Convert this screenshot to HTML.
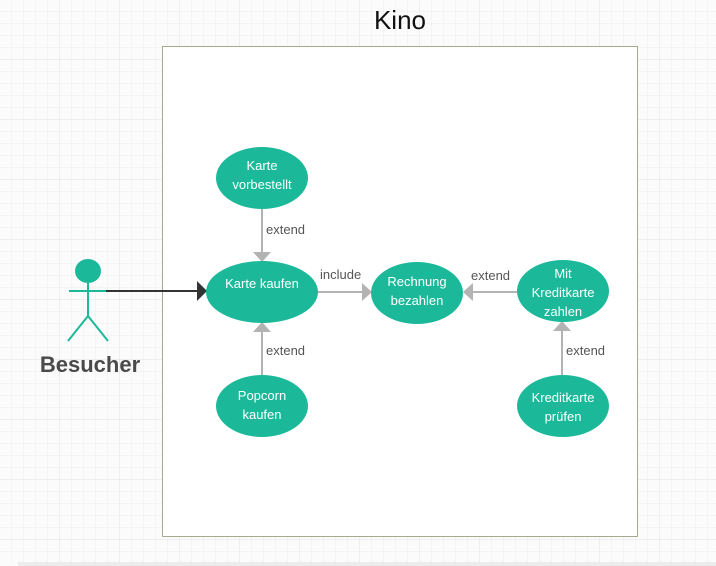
<!DOCTYPE html>
<html><head><meta charset="utf-8"><style>
html,body{margin:0;padding:0;background:#fff}
svg{display:block}
text{font-family:"Liberation Sans",sans-serif}
</style></head><body>
<svg width="716" height="566" viewBox="0 0 716 566">
<defs>
<pattern id="g" width="12" height="12" patternUnits="userSpaceOnUse">
<path d="M12 0V12M0 12H12" stroke="#eeeeee" stroke-width="1" fill="none"/>
</pattern>
<pattern id="G" width="60" height="60" patternUnits="userSpaceOnUse">
<rect width="60" height="60" fill="url(#g)"/>
<path d="M60 0V60M0 60H60" stroke="#e2e2e2" stroke-width="1" fill="none"/>
</pattern>
</defs>
<rect width="716" height="566" fill="#fbfbfb"/>
<rect width="716" height="562" fill="url(#G)"/>
<rect x="18" y="562" width="698" height="4" fill="#ececec"/>
<text x="400" y="29" font-size="26" text-anchor="middle" fill="#111">Kino</text>
<rect x="162.5" y="46.5" width="475" height="490" fill="#fff" stroke="#a8a890" stroke-width="1"/>

<g stroke="#b3b3b3" stroke-width="2" fill="#b3b3b3">
<line x1="262" y1="208" x2="262" y2="252"/>
<polygon points="253,252 271,252 262,262" stroke="none"/>
<line x1="262" y1="375" x2="262" y2="332"/>
<polygon points="253,332 271,332 262,322" stroke="none"/>
<line x1="318" y1="292" x2="362" y2="292"/>
<polygon points="362,283 362,301 372,292" stroke="none"/>
<line x1="517" y1="292" x2="473" y2="292"/>
<polygon points="473,283 473,301 463,292" stroke="none"/>
<line x1="562" y1="375" x2="562" y2="331"/>
<polygon points="553,331 571,331 562,321" stroke="none"/>
</g>
<g font-size="13" fill="#555">
<text x="266" y="234">extend</text>
<text x="266" y="355">extend</text>
<text x="320" y="279">include</text>
<text x="471" y="280">extend</text>
<text x="566" y="355">extend</text>
</g>

<line x1="106" y1="291" x2="198" y2="291" stroke="#333" stroke-width="2"/>
<polygon points="197,281 197,301 207,291" fill="#333"/>

<g fill="#1bb99a">
<ellipse cx="262" cy="178" rx="46" ry="31"/>
<ellipse cx="262" cy="292" rx="56" ry="31"/>
<ellipse cx="417" cy="293" rx="46" ry="31"/>
<ellipse cx="563" cy="291" rx="46" ry="31"/>
<ellipse cx="262" cy="406" rx="46" ry="31"/>
<ellipse cx="563" cy="406" rx="46" ry="31"/>
</g>
<g font-size="13" fill="#fff" text-anchor="middle">
<text x="262" y="170">Karte</text><text x="262" y="189">vorbestellt</text>
<text x="262" y="288">Karte kaufen</text>
<text x="417" y="286">Rechnung</text><text x="417" y="305">bezahlen</text>
<text x="563" y="278">Mit</text><text x="563" y="297">Kreditkarte</text><text x="563" y="316">zahlen</text>
<text x="262" y="400">Popcorn</text><text x="262" y="419">kaufen</text>
<text x="563" y="402">Kreditkarte</text><text x="563" y="421">prüfen</text>
</g>

<g stroke="#1bb99a" stroke-width="2" fill="none">
<line x1="69" y1="291" x2="106" y2="291"/>
<line x1="88" y1="283" x2="88" y2="316"/>
<polyline points="68,341 88,316 108,341"/>
</g>
<ellipse cx="88" cy="271" rx="13" ry="12" fill="#1bb99a"/>
<text x="90" y="372" font-size="22" font-weight="bold" fill="#4a4a4a" text-anchor="middle">Besucher</text>
</svg>
</body></html>
